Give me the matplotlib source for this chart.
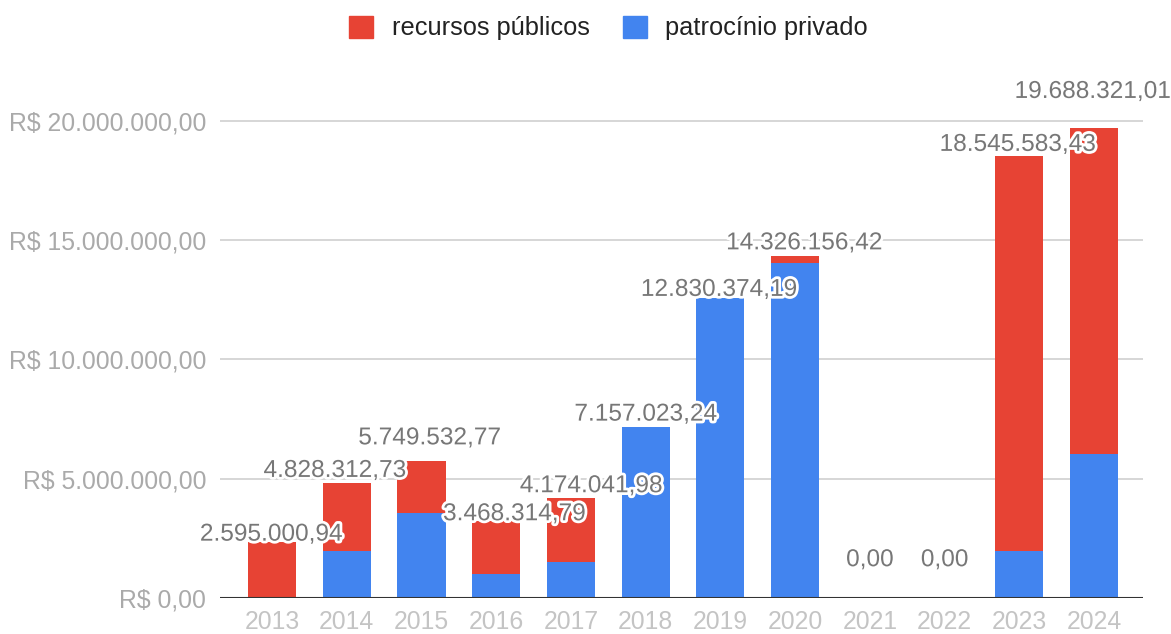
import matplotlib
matplotlib.use("Agg")
import matplotlib.pyplot as plt
import matplotlib.patheffects as pe
from matplotlib.patches import Patch
from matplotlib.ticker import FuncFormatter, FixedLocator

# ---- data ----
years = ["2013", "2014", "2015", "2016", "2017", "2018",
         "2019", "2020", "2021", "2022", "2023", "2024"]
privado = [0, 1.95e6, 3.54e6, 0.99e6, 1.50e6, 7.157e6,
           12.56e6, 14.03e6, 0, 0, 1.95e6, 6.02e6]
publico = [2.35e6, 2.88e6, 2.21e6, 2.22e6, 2.674e6, 0,
           0, 0.296e6, 0, 0, 16.596e6, 13.668e6]
labels = ["2.595.000,94", "4.828.312,73", "5.749.532,77", "3.468.314,79",
          "4.174.041,98", "7.157.023,24", "12.830.374,19", "14.326.156,42",
          "0,00", "0,00", "18.545.583,43", "19.688.321,01"]
label_values = [2595000.94, 4828312.73, 5749532.77, 3468314.79,
                4174041.98, 7157023.24, 12830374.19, 14326156.42,
                0.0, 0.0, 18545583.43, 19688321.01]
yticks = [0, 5e6, 10e6, 15e6, 20e6]

# annotation nudges (pixels), mimicking the collision avoidance of the original
lab_dx = [-1, -12, 8, 18, 20, 0, -1.5, 9, 0, 0, -2, -1.5]
lab_dy = [-4.8, 5.7, 16.3, -5.2, 6.0, 6.5, -4.0, 6.9, 31.5, 31.5, 4.8, 30.5]

RED = "#e74334"
BLUE = "#4284ef"
FONT = "Liberation Sans"

fig = plt.figure(figsize=(11.71, 6.34), dpi=100)
ax = fig.add_axes([220 / 1171, 36.3 / 634, 923 / 1171, 537.7 / 634])

x = list(range(len(years)))
w = 0.643
ax.bar(x, privado, width=w, color=BLUE, zorder=2)
ax.bar(x, publico, width=w, bottom=privado, color=RED, zorder=2)

ax.set_xlim(-0.696, 11.654)
ax.set_ylim(0, 22.56e6)

def fmt(v, pos=None):
    s = f"{v:,.2f}".replace(",", "X").replace(".", ",").replace("X", ".")
    return "R$ " + s

ax.yaxis.set_major_locator(FixedLocator(yticks))
ax.yaxis.set_major_formatter(FuncFormatter(fmt))
ax.set_xticks(x)
ax.set_xticklabels(years)

for s in ax.spines.values():
    s.set_visible(False)
ax.tick_params(axis="y", length=0, pad=10, labelsize=17.8, labelcolor="#aaaaaa")
ax.tick_params(axis="x", length=0, pad=9, labelsize=17.8, labelcolor="#c4c4c4")
for t in ax.get_xticklabels() + ax.get_yticklabels():
    t.set_fontfamily(FONT)

ax.grid(axis="y", color="#cccccc", linewidth=1.1, zorder=0)
ax.set_axisbelow(True)
ax.axhline(0, color="#333333", linewidth=1.5, zorder=3)

for i, (lab, v) in enumerate(zip(labels, label_values)):
    ax.annotate(lab, xy=(i, v), xytext=(lab_dx[i], lab_dy[i]),
                textcoords="offset pixels", ha="center", va="baseline",
                fontsize=17.6, color="#777777", family=FONT, zorder=5,
                annotation_clip=False,
                path_effects=[pe.withStroke(linewidth=4, foreground="white")])

handles = [Patch(facecolor=RED, edgecolor=RED, label="recursos públicos"),
           Patch(facecolor=BLUE, edgecolor=BLUE, label="patrocínio privado")]
fig.legend(handles=handles, loc="center", bbox_to_anchor=(608.5 / 1171, 1 - 28 / 634),
           ncol=2, frameon=False, prop={"family": FONT, "size": 18.3},
           handlelength=0.95, handleheight=0.95, handletextpad=0.72,
           columnspacing=1.3, labelcolor="#222222")

fig.savefig("out.png", dpi=100)
